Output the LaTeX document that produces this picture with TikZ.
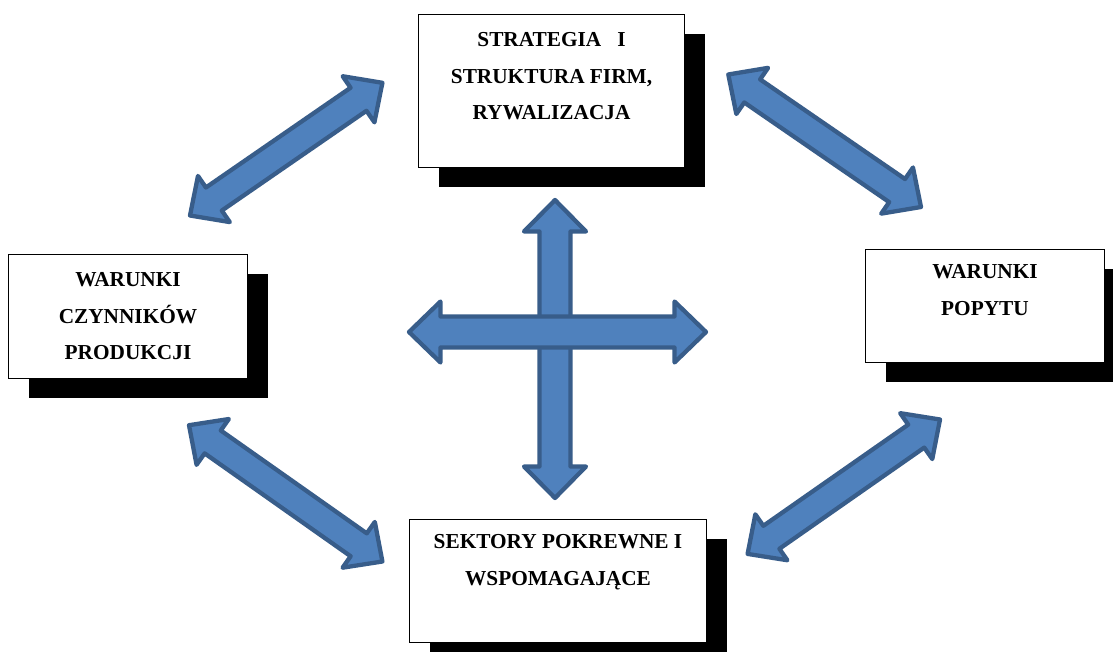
\documentclass[tikz,border=0pt]{standalone}
\usepackage{fontspec}
\setmainfont{Liberation Serif}
\usetikzlibrary{calc,shadows}
\definecolor{afill}{HTML}{4F81BD}
\definecolor{aline}{HTML}{385D8A}
% #1 from, #2 to, #3 head length, #4 head half width, #5 shaft half width
\newcommand\blockarrow[5]{%
  \path ($(#1)!#3!(#2)$) coordinate (ba1) ($(#2)!#3!(#1)$) coordinate (ba2);
  \draw[barrow] (#1) -- ($(ba1)!#4!-90:(#2)$) -- ($(ba1)!#5!-90:(#2)$)
    -- ($(ba2)!#5!90:(#1)$) -- ($(ba2)!#4!90:(#1)$) -- (#2)
    -- ($(ba2)!#4!-90:(#1)$) -- ($(ba2)!#5!-90:(#1)$)
    -- ($(ba1)!#5!90:(#2)$) -- ($(ba1)!#4!90:(#2)$) -- cycle;
}
\begin{document}
\begin{tikzpicture}[x=1pt,y=-1pt,
  box/.style={draw=black, line width=1.5pt, fill=white, inner sep=0pt,
    general shadow={fill=black, shadow xshift=20pt, shadow yshift=-19pt}},
  lbl/.style={font=\bfseries\fontsize{21.3}{36.5}\selectfont, align=center,
    inner sep=0pt, anchor=north},
  barrow/.style={draw=aline, fill=afill, line width=4.3pt, line join=round}]
\useasboundingbox (0,0) rectangle (1113,651);

% boxes
\node[box, minimum width=266pt, minimum height=153pt] (top) at (551.5,91) {};
\node[box, minimum width=239pt, minimum height=124pt] (left) at (128,316.5) {};
\node[box, minimum width=239pt, minimum height=113pt] (right) at (985,306) {};
\node[box, minimum width=297pt, minimum height=123pt] (bottom) at (558,581) {};

% labels
\node[lbl] (topT) at ($(top.north)+(0,13)$)
  {\rule{0pt}{20pt}STRATEGIA\hspace{16pt}I\\STRUKTURA FIRM,\\RYWALIZACJA};
\node[lbl] (leftT) at ($(left.north)+(0,13)$)
  {\rule{0pt}{20pt}WARUNKI\\CZYNNIKÓW\\PRODUKCJI};
\node[lbl] (rightT) at ($(right.north)+(0,10)$)
  {\rule{0pt}{20pt}WARUNKI\\POPYTU};
\node[lbl] (bottomT) at ($(bottom.north)+(0,10)$)
  {\rule{0pt}{20pt}SEKTORY POKREWNE I\\WSPOMAGAJĄCE};

% arrow ends
\coordinate (vT) at (555,200);     \coordinate (vB) at (555,498);
\coordinate (hL) at (409,332);     \coordinate (hR) at (706,332);
\coordinate (nwA) at (190,215.5);  \coordinate (nwB) at (382.4,82.8);
\coordinate (neA) at (728.3,74.5); \coordinate (neB) at (921,207);
\coordinate (swA) at (189,425.2);  \coordinate (swB) at (382.4,561.5);
\coordinate (seA) at (747.6,553.9); \coordinate (seB) at (940,419.5);

% arrows
\blockarrow{vT}{vB}{31.5pt}{31pt}{15.5pt}
\blockarrow{hL}{hR}{31.5pt}{30.5pt}{15.5pt}
\blockarrow{nwA}{nwB}{29pt}{28pt}{14pt}
\blockarrow{neA}{neB}{29pt}{28pt}{14pt}
\blockarrow{swA}{swB}{29pt}{28pt}{14pt}
\blockarrow{seA}{seB}{29pt}{28pt}{14pt}
\end{tikzpicture}
\end{document}
